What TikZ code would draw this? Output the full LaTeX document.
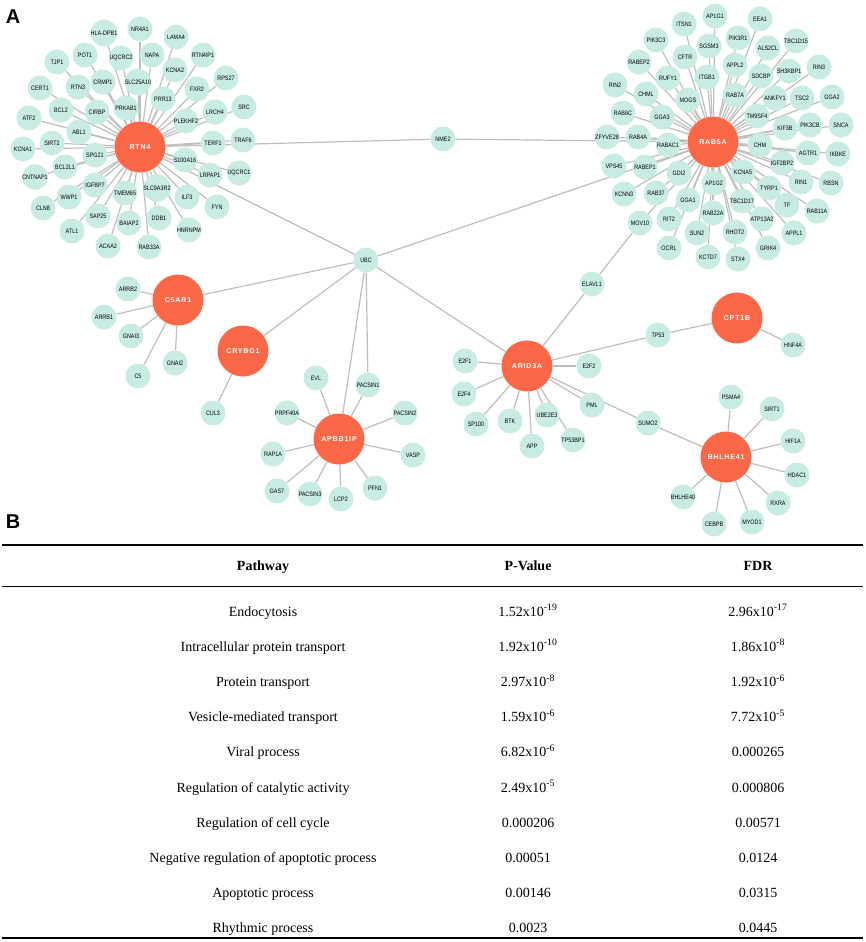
\documentclass[tikz,border=0pt]{standalone}
\usepackage{fontspec}
\setmainfont{Liberation Serif}
\newfontfamily\nfont[FakeStretch=0.85]{Liberation Sans}
\newfontfamily\hfont[LetterSpace=12]{Liberation Sans}
\newfontfamily\lfont{Liberation Sans}
\definecolor{smallfill}{RGB}{200,236,228}
\definecolor{hubfill}{RGB}{250,104,72}
\definecolor{edgecol}{RGB}{190,190,190}
\pgfdeclarelayer{bg}
\pgfsetlayers{bg,main}
\tikzset{
  sn/.style={circle,fill=smallfill,minimum size=25pt,inner sep=0pt,font=\nfont\fontsize{6.4}{7}\selectfont},
  hub/.style={circle,fill=hubfill,minimum size=51pt,inner sep=0pt,text=white,font=\hfont\bfseries\fontsize{7}{8}\selectfont},
  edge/.style={draw=edgecol,line width=1.2pt},
  cell/.style={anchor=base,inner sep=0pt,font=\fontsize{14}{16}\selectfont},
  headcell/.style={cell,font=\bfseries\fontsize{14}{16}\selectfont},
  panel/.style={anchor=center,inner sep=0pt,font=\lfont\bfseries\fontsize{20}{20}\selectfont}
}
\newcommand\hubset[2]{%
  \foreach \nm/\px/\py/\lb in {#2}{%
    \node[sn] (\nm) at (\px,\py) {\lb};
    \begin{pgfonlayer}{bg}\draw[edge] (#1) -- (\nm);\end{pgfonlayer}
  }}
\newcommand\edgeset[2]{%
  \foreach \nm in {#2}{%
    \begin{pgfonlayer}{bg}\draw[edge] (#1) -- (\nm);\end{pgfonlayer}
  }}
\begin{document}
\begin{tikzpicture}[x=1pt,y=-1pt]
\useasboundingbox (0,0) rectangle (865,942);
\begin{pgfonlayer}{bg}\fill[white] (0,0) rectangle (865,942);\end{pgfonlayer}

\node[panel] (labA) at (13,17) {A};
\node[panel] (labB) at (13,522) {B};

% hubs
\node[hub] (RTN4) at (140,147) {RTN4};
\node[hub] (RAB5A) at (713,142) {RAB5A};
\node[hub] (C5AR1) at (178,300) {C5AR1};
\node[hub] (CRYBG1) at (243,351) {CRYBG1};
\node[hub] (APBB1IP) at (339,439) {APBB1IP};
\node[hub] (ARID3A) at (527,366) {ARID3A};
\node[hub] (CPT1B) at (737,318) {CPT1B};
\node[hub] (BHLHE41) at (726,457) {BHLHE41};

\node[sn] (NME2) at (443,139) {NME2};
\node[sn] (UBC) at (366,260) {UBC};

\hubset{RTN4}{HLADPB1/104/33/HLA-DPB1, NR4A1/140/29/NR4A1, LAMA4/176/37/LAMA4,
 POT1/85/55/POT1, UQCRC2/121/58/UQCRC2, NAPA/152/55/NAPA, RTN4IP1/203/55/RTN4IP1,
 TJP1/57/62/TJP1, KCNA2/175/70/KCNA2, RPS27/226/78/RPS27, CRMP1/103/82/CRMP1,
 SLC25A10/138/82/SLC25A10, RTN3/78/87/RTN3, CERT1/40/88/CERT1, FXR2/197/89/FXR2,
 PRR13/163/99/PRR13, BCL2/61/110/BCL2, CIRBP/97/112/CIRBP, PRKAB1/126/108/PRKAB1,
 SRC/244/107/SRC, LRCH4/215/112/LRCH4, ATF2/29/118/ATF2, PLEKHF2/186/121/PLEKHF2,
 ABL1/79/132/ABL1, TRAF6/243/140/TRAF6, TERF1/213/143/TERF1, SIRT2/52/143/SIRT2,
 KCNA1/23/149/KCNA1, SPG21/95/155/SPG21, S100A16/185/160/S100A16, BCL2L1/65/167/BCL2L1,
 LRPAP1/210/175/LRPAP1, UQCRC1/239/173/UQCRC1, CNTNAP1/35/177/CNTNAP1,
 IGFBP7/95/185/IGFBP7, SLC9A3R2/157/188/SLC9A3R2, TMEM65/125/193/TMEM65,
 ILF3/187/197/ILF3, WWP1/69/197/WWP1, FYN/217/207/FYN, CLN8/43/208/CLN8,
 SAP25/98/216/SAP25, DDB1/159/218/DDB1, BAIAP2/129/223/BAIAP2, HNRNPM/189/230/HNRNPM,
 ATL1/72/231/ATL1, ACAA2/108/246/ACAA2, RAB33A/149/247/RAB33A}

\hubset{RAB5A}{ITSN1/684/24/ITSN1, AP1G1/715/16/AP1G1, EEA1/760/19/EEA1,
 PIK3C3/656/40/PIK3C3, TBC1D15/796/41/TBC1D15, PIK3R1/738/38/PIK3R1, SGSM3/709/46/SGSM3,
 ALS2CL/768/48/ALS2CL, CFTR/685/57/CFTR, RABEP2/639/62/RABEP2, APPL2/735/65/APPL2,
 RIN3/819/67/RIN3, SH3KBP1/789/71/SH3KBP1, SDCBP/761/76/SDCBP, ITGB1/707/77/ITGB1,
 RUFY1/668/78/RUFY1, RIN2/615/85/RIN2, CHML/646/94/CHML, RAB7A/735/95/RAB7A,
 ANKFY1/775/98/ANKFY1, TSC2/802/98/TSC2, GGA2/832/97/GGA2, MOGS/688/100/MOGS,
 RAB6C/623/113/RAB6C, TM9SF4/757/116/TM9SF4, GGA3/662/117/GGA3, PIK3CB/810/125/PIK3CB,
 SNCA/841/125/SNCA, KIF3B/785/128/KIF3B, ZFYVE28/607/137/ZFYVE28, RAB4A/638/137/RAB4A,
 RABAC1/668/145/RABAC1, CHM/760/145/CHM, AGTR1/808/153/AGTR1, IKBKE/838/154/IKBKE,
 IGF2BP2/782/163/IGF2BP2, VPS45/614/166/VPS45, RABEP1/645/167/RABEP1, KCNA5/743/172/KCNA5,
 GDI2/679/173/GDI2, AP1G2/714/183/AP1G2, RIN1/801/182/RIN1, RBSN/831/183/RBSN,
 TYRP1/769/188/TYRP1, RAB37/656/193/RAB37, KCNN3/624/194/KCNN3, GGA1/688/200/GGA1,
 TBC1D17/742/201/TBC1D17, TF/787/205/TF, RAB11A/817/211/RAB11A, RAB22A/713/213/RAB22A,
 RIT2/669/219/RIT2, ATP13A2/762/219/ATP13A2, MOV10/640/223/MOV10, RHOT2/735/232/RHOT2,
 SUN2/697/233/SUN2, APPL1/794/233/APPL1, OCRL/669/248/OCRL, GRIK4/768/248/GRIK4,
 KCTD7/708/257/KCTD7, STX4/738/259/STX4}

\hubset{C5AR1}{ARRB2/128/289/ARRB2, ARRB1/104/317/ARRB1, GNAI3/131/336/GNAI3,
 GNAI2/175/363/GNAI2, C5/138/376/C5}
\hubset{CRYBG1}{CUL3/213/413/CUL3}
\hubset{APBB1IP}{EVL/316/378/EVL, PACSIN1/368/385/PACSIN1, PACSIN2/405/413/PACSIN2,
 PRPF40A/287/413/PRPF40A, RAP1A/273/454/RAP1A, VASP/413/455/VASP, GAS7/277/491/GAS7,
 PACSIN3/310/494/PACSIN3, LCP2/341/499/LCP2, PFN1/375/488/PFN1}
\hubset{ARID3A}{ELAVL1/592/284/ELAVL1, TP53/658/335/TP53, E2F1/465/361/E2F1,
 E2F2/589/366/E2F2, E2F4/464/394/E2F4, PML/592/405/PML, SUMO2/648/423/SUMO2,
 UBE2E3/547/415/UBE2E3, BTK/510/421/BTK, SP100/476/424/SP100, APP/532/446/APP,
 TP53BP1/573/440/TP53BP1}
\hubset{CPT1B}{HNF4A/793/345/HNF4A}
\hubset{BHLHE41}{PSMA4/731/397/PSMA4, SIRT1/772/409/SIRT1, HIF1A/793/441/HIF1A,
 HDAC1/797/475/HDAC1, RXRA/778/503/RXRA, MYOD1/752/522/MYOD1, CEBPB/714/524/CEBPB,
 BHLHE40/683/497/BHLHE40}

\edgeset{UBC}{RTN4,C5AR1,CRYBG1,APBB1IP,PACSIN1,ARID3A,RAB5A}
\edgeset{NME2}{RTN4,RAB5A}
\edgeset{ELAVL1}{MOV10}
\edgeset{TP53}{CPT1B}
\edgeset{SUMO2}{BHLHE41}

% table
\draw[line width=2.5pt] (2,545) -- (863,545);
\draw[line width=1pt] (2,586) -- (863,586);
\draw[line width=2.5pt] (2,938) -- (863,938);
\node[headcell] (hPath) at (263,570) {Pathway};
\node[headcell] (hPval) at (528,570) {P-Value};
\node[headcell] (hFdr) at (758,570) {FDR};
\foreach \i/\pa/\pv/\fd in {
 0/Endocytosis/1.52x10\textsuperscript{-19}/2.96x10\textsuperscript{-17},
 1/Intracellular protein transport/1.92x10\textsuperscript{-10}/1.86x10\textsuperscript{-8},
 2/Protein transport/2.97x10\textsuperscript{-8}/1.92x10\textsuperscript{-6},
 3/Vesicle-mediated transport/1.59x10\textsuperscript{-6}/7.72x10\textsuperscript{-5},
 4/Viral process/6.82x10\textsuperscript{-6}/0.000265,
 5/Regulation of catalytic activity/2.49x10\textsuperscript{-5}/0.000806,
 6/Regulation of cell cycle/0.000206/0.00571,
 7/Negative regulation of apoptotic process/0.00051/0.0124,
 8/Apoptotic process/0.00146/0.0315,
 9/Rhythmic process/0.0023/0.0445}{
  \pgfmathsetmacro\ry{616+35.2*\i}
  \node[cell] (pw\i) at (263,\ry) {\pa};
  \node[cell] (pv\i) at (528,\ry) {\pv};
  \node[cell] (fd\i) at (758,\ry) {\fd};
}
\end{tikzpicture}
\end{document}
